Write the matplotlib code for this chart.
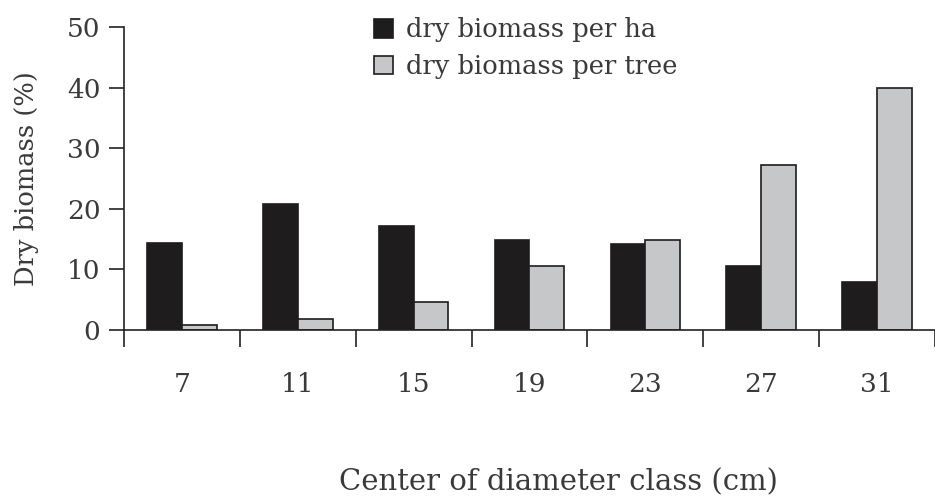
import numpy as np
import matplotlib.pyplot as plt
from matplotlib.ticker import FixedLocator

classes = ["7", "11", "15", "19", "23", "27", "31"]
per_ha = [14.3, 20.8, 17.2, 14.9, 14.2, 10.6, 8.0]
per_tree = [0.8, 1.8, 4.7, 10.6, 14.8, 27.3, 40.0]

plt.rcParams['font.family'] = ['DejaVu Serif']
txt = '#3a3a3a'

fig = plt.figure(figsize=(9.35, 4.97), dpi=100)
ax = fig.add_axes([0.1326, 0.336, 0.8674, 0.6097])

x = np.arange(len(classes))
w = 0.3
ax.bar(x - w / 2, per_ha, w, color='#1e1c1d', edgecolor='#1e1c1d', linewidth=1.2,
       label='dry biomass per ha')
ax.bar(x + w / 2, per_tree, w, color='#c6c7c9', edgecolor='#1e1c1d', linewidth=1.2,
       label='dry biomass per tree')

ax.set_xlim(-0.5, len(classes) - 0.5)
ax.set_ylim(0, 50)
ax.set_yticks([0, 10, 20, 30, 40, 50])
ax.set_xticks(x)
ax.set_xticklabels(classes)
ax.xaxis.set_minor_locator(FixedLocator(np.arange(-0.5, len(classes), 1.0)))

for s in ['top', 'right']:
    ax.spines[s].set_visible(False)
for s in ['left', 'bottom']:
    ax.spines[s].set_color('#222222')
    ax.spines[s].set_linewidth(1.2)

ax.tick_params(axis='x', which='major', length=0, pad=30, labelsize=19, labelcolor=txt)
ax.tick_params(axis='x', which='minor', length=12, width=1.2, direction='out', color='#222222')
ax.tick_params(axis='y', length=11, width=1.2, direction='out', pad=6, labelsize=19,
               labelcolor=txt, color='#222222')

ax.set_ylabel('Dry biomass (%)', fontsize=18.5, color=txt, labelpad=20)
fig.text(0.597, 0.03, 'Center of diameter class (cm)', ha='center', va='center',
         fontsize=21, color=txt)

ax.legend(loc='upper left', bbox_to_anchor=(0.28, 1.108), frameon=False, fontsize=18.5,
          handlelength=0.75, handleheight=0.75, handletextpad=0.5, labelspacing=0.45,
          labelcolor=txt)

fig.savefig('out.png', dpi=100)
